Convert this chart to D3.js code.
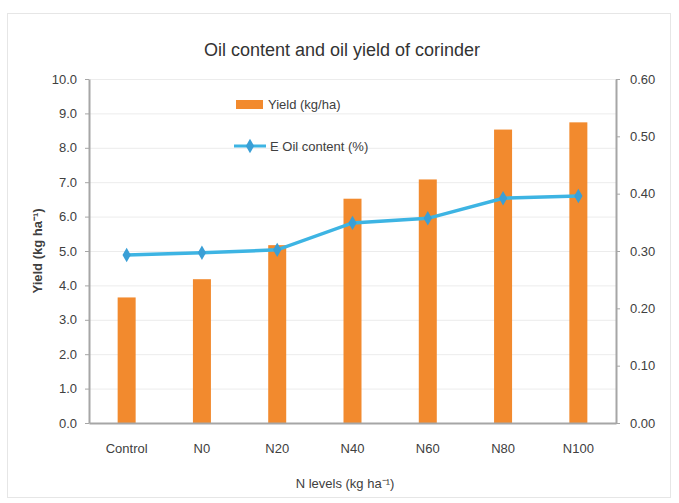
<!DOCTYPE html>
<html>
<head>
<meta charset="utf-8">
<script src="https://cdn.jsdelivr.net/npm/d3@7"></script>
<style>
  body { margin: 0; background: #fff; }
  svg { font-family: "Liberation Sans Narrow", "Liberation Sans", Arial, sans-serif; }
</style>
</head>
<body>
<svg id="chart" width="679" height="503"></svg>
<script>
const categories = ["Control", "N0", "N20", "N40", "N60", "N80", "N100"];
const yieldValues = [3.65, 4.18, 5.17, 6.52, 7.08, 8.53, 8.74];
const oilContent = [0.293, 0.297, 0.302, 0.349, 0.357, 0.392, 0.396];
const leftTicks = [0, 1, 2, 3, 4, 5, 6, 7, 8, 9, 10];
const rightTicks = [0, 0.1, 0.2, 0.3, 0.4, 0.5, 0.6];

const margin = { top: 79, right: 63, bottom: 80, left: 89 };
const width = 679 - margin.left - margin.right;
const height = 503 - margin.top - margin.bottom;

const svg = d3.select("#chart");

// chart frame
svg.append("rect")
    .attr("x", 7.5).attr("y", 13.5)
    .attr("width", 663).attr("height", 484)
    .attr("fill", "#fff")
    .attr("stroke", "#e6e6e6")
    .attr("stroke-width", 1);

const g = svg.append("g")
    .attr("transform", `translate(${margin.left},${margin.top})`);

const x = d3.scaleBand().domain(categories).range([0, width]);
const yLeft = d3.scaleLinear().domain([0, 10]).range([height, 0]);
const yRight = d3.scaleLinear().domain([0, 0.6]).range([height, 0]);

// gridlines
g.append("g")
    .selectAll("line")
    .data(leftTicks)
    .enter()
    .append("line")
    .attr("x1", 0).attr("x2", width)
    .attr("y1", d => yLeft(d) + 0.5).attr("y2", d => yLeft(d) + 0.5)
    .attr("stroke", "#ececec");

// bars
g.selectAll("rect.bar")
    .data(yieldValues)
    .enter()
    .append("rect")
    .attr("class", "bar")
    .attr("x", (d, i) => x(categories[i]) + x.bandwidth() / 2 - 9)
    .attr("width", 18)
    .attr("y", d => yLeft(d))
    .attr("height", d => height - yLeft(d))
    .attr("fill", "#f28a2e");

// axes
const leftAxis = g.append("g")
    .call(d3.axisLeft(yLeft).tickValues(leftTicks).tickFormat(d3.format(".1f")).tickSize(4).tickSizeOuter(0));
const rightAxis = g.append("g")
    .attr("transform", `translate(${width},0)`)
    .call(d3.axisRight(yRight).tickValues(rightTicks).tickFormat(d3.format(".2f")).tickSize(4).tickSizeOuter(0));
const bottomAxis = g.append("g")
    .attr("transform", `translate(0,${height})`)
    .call(d3.axisBottom(x).tickSize(0));

[leftAxis, rightAxis, bottomAxis].forEach(a => {
    a.select(".domain").attr("stroke", "#a6a6a6").attr("stroke-width", 2);
    a.selectAll(".tick line").attr("stroke", "#a6a6a6");
    a.selectAll("text").attr("fill", "#404040").style("font-size", "13px");
});
leftAxis.selectAll("text").attr("x", -12);
rightAxis.selectAll("text").attr("x", 14);
bottomAxis.selectAll("text").attr("dy", "0").attr("y", 30);

// oil content line
const line = d3.line()
    .x((d, i) => x(categories[i]) + x.bandwidth() / 2)
    .y(d => yRight(d));

g.append("path")
    .datum(oilContent)
    .attr("fill", "none")
    .attr("stroke", "#3db4e3")
    .attr("stroke-width", 3.5)
    .attr("d", line);

const diamond = d3.symbol().type(d3.symbolDiamond).size(60);
g.selectAll("path.marker")
    .data(oilContent)
    .enter()
    .append("path")
    .attr("class", "marker")
    .attr("transform", (d, i) => `translate(${x(categories[i]) + x.bandwidth() / 2},${yRight(d)})`)
    .attr("d", diamond)
    .attr("fill", "#3a9fd6");

// title
svg.append("text")
    .attr("x", 342).attr("y", 56)
    .attr("text-anchor", "middle")
    .attr("fill", "#333")
    .style("font-size", "18px")
    .text("Oil content and oil yield of corinder");

// axis titles
svg.append("text")
    .attr("transform", "rotate(-90)")
    .attr("x", -251).attr("y", 42)
    .attr("text-anchor", "middle")
    .attr("fill", "#404040")
    .style("font-size", "13px")
    .style("font-weight", "bold")
    .text("Yield (kg ha⁻¹)");

svg.append("text")
    .attr("x", 345).attr("y", 488)
    .attr("text-anchor", "middle")
    .attr("fill", "#404040")
    .style("font-size", "13px")
    .text("N levels (kg ha⁻¹)");

// legend
const legend = svg.append("g");
legend.append("rect")
    .attr("x", 236).attr("y", 100)
    .attr("width", 27).attr("height", 9)
    .attr("fill", "#f28a2e");
legend.append("text")
    .attr("x", 268).attr("y", 109)
    .attr("fill", "#404040")
    .style("font-size", "13px")
    .text("Yield (kg/ha)");
legend.append("line")
    .attr("x1", 234).attr("x2", 266)
    .attr("y1", 146).attr("y2", 146)
    .attr("stroke", "#3db4e3")
    .attr("stroke-width", 3);
legend.append("path")
    .attr("transform", "translate(250,146)")
    .attr("d", diamond)
    .attr("fill", "#3a9fd6");
legend.append("text")
    .attr("x", 270).attr("y", 151)
    .attr("fill", "#404040")
    .style("font-size", "13px")
    .text("E Oil content (%)");
</script>
</body>
</html>
